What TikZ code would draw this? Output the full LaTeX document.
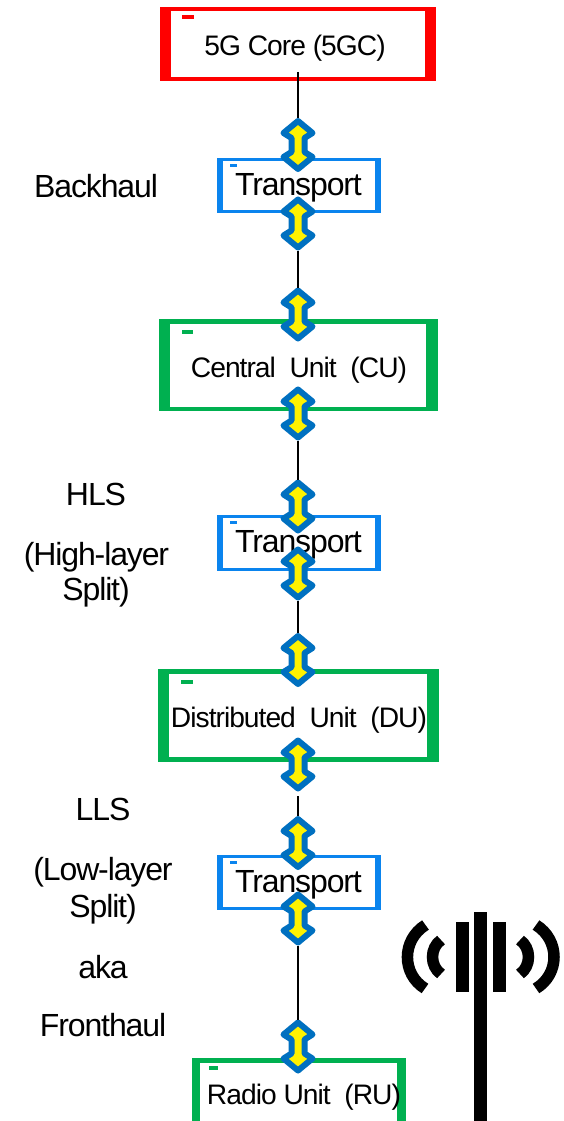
\documentclass[tikz,border=0pt]{standalone}
\usepackage{fontspec}
\setmainfont[LetterSpace=-3.5]{Liberation Sans}
\definecolor{corered}{HTML}{FF0000}
\definecolor{tblue}{HTML}{0A84EE}
\definecolor{ugreen}{HTML}{00B050}
\definecolor{ablue}{HTML}{0070C0}
\tikzset{
  x=1pt,y=-1pt,
  lbl/.style={anchor=base,inner sep=0pt,text=black,font=\fontsize{32}{36}\selectfont},
  unitlbl/.style={lbl,font=\fontsize{28.2}{32}\selectfont},
  tlbl/.style={lbl,font=\fontsize{32}{36}\selectfont},
  dblhit/.style={inner sep=0pt,outer sep=0pt,minimum width=35pt,minimum height=54pt},
  dblpath/.style={draw=ablue,fill=yellow,line width=6pt,line join=round},
  conn/.style={draw=black,line width=2.2pt},
  ant/.style={draw=black,line width=11.5pt,line cap=butt},
}
\newcommand{\dblarrow}[2]{%
  \node[dblhit] (#1) at (298,#2) {};
  \path[dblpath,shift={(298,#2)}] (0,-24) -- (14.5,-12) -- (6.5,-7) -- (6.5,7) -- (14.5,12)
    -- (0,24) -- (-14.5,12) -- (-6.5,7) -- (-6.5,-7) -- (-14.5,-12) -- cycle;
}
\begin{document}
\begin{tikzpicture}
\useasboundingbox (0,0) rectangle (563,1121);
\fill[white] (0,0) rectangle (563,1121);
% boxes
\fill[corered] (159.5,7) rectangle (436,81);
\fill[white] (171,11) rectangle (425,77);
\fill[corered] (182.3,15.3) rectangle (194.3,19.3);
\fill[tblue] (216.5,158) rectangle (380.5,213);
\fill[white] (223,161) rectangle (375,210);
\fill[tblue] (230,164) rectangle (237,167);
\fill[ugreen] (158.5,319) rectangle (437.5,411);
\fill[white] (170,324) rectangle (426,407);
\fill[ugreen] (181.7,330) rectangle (193,334);
\fill[tblue] (216.5,515) rectangle (380.5,571);
\fill[white] (223,518) rectangle (375,568);
\fill[tblue] (230,521) rectangle (237,524);
\fill[ugreen] (157.5,669) rectangle (438.5,762);
\fill[white] (169,674) rectangle (427,757);
\fill[ugreen] (180.7,680) rectangle (192.7,684);
\fill[tblue] (216.5,855) rectangle (380.5,910);
\fill[white] (223,858) rectangle (375,907);
\fill[tblue] (230,861) rectangle (237,864);
\fill[ugreen] (192,1058) rectangle (405.7,1121);
\fill[white] (200,1063) rectangle (397,1121);
\fill[ugreen] (209,1066) rectangle (218,1070);
% box labels
\node[unitlbl] (core) at (295,56) {5G Core (5GC)};
\node[tlbl] (t1) at (298.5,195) {Transport};
\node[unitlbl] (cu) at (299,377) {Central\ \ Unit\ \ (CU)};
\node[tlbl] (t2) at (298.5,552) {Transport};
\node[unitlbl] (du) at (299,727) {Distributed\ \ Unit\ \ (DU)};
\node[tlbl] (t3) at (298.5,892) {Transport};
\node[unitlbl] (ru) at (304,1104) {Radio Unit\ \ (RU)};
% side labels
\node[lbl] (backhaul) at (96,197) {Backhaul};
\node[lbl] (hls) at (96,505.5) {HLS};
\node[lbl] (hl) at (96.5,565) {(High-layer};
\node[lbl] (hs) at (96,600) {Split)};
\node[lbl] (lls) at (103,820) {LLS};
\node[lbl] (ll) at (103,880) {(Low-layer};
\node[lbl] (ls) at (103,917) {Split)};
\node[lbl] (aka) at (103,978) {aka};
\node[lbl] (fh) at (103,1036) {Fronthaul};
% arrows
\dblarrow{a1}{145}
\dblarrow{a2}{223.5}
\dblarrow{a3}{314.5}
\dblarrow{a4}{413.5}
\dblarrow{a5}{506.5}
\dblarrow{a6}{573.5}
\dblarrow{a7}{660}
\dblarrow{a8}{764.5}
\dblarrow{a9}{843}
\dblarrow{a10}{918.5}
\dblarrow{a11}{1046.5}
% connectors
\coordinate (corefoot) at (298,72);
\coordinate (a8foot) at (298,796);
\path[conn] (corefoot) -- (a1.north);
\path[conn] (a2.south) -- (a3.north);
\path[conn] (a4.south) -- (a5.north);
\path[conn] (a6.south) -- (a7.north);
\path[conn] (a8foot) -- (a9.north);
\path[conn] (a10.south) -- (a11.north);
% antenna
\fill[black] (474,912) rectangle (487,1121);
\fill[black] (456,922) rectangle (469,992);
\fill[black] (493,922) rectangle (506,992);
\draw[ant] (425.5,925) .. controls (401.5,940) and (401.5,974) .. (425,988.5);
\draw[ant] (441,940) .. controls (429.7,948) and (429.7,966) .. (441,974);
\draw[ant] (536,925) .. controls (560,940) and (560,974) .. (536,988.5);
\draw[ant] (520,940) .. controls (531.3,948) and (531.3,966) .. (520,974);
\end{tikzpicture}
\end{document}
